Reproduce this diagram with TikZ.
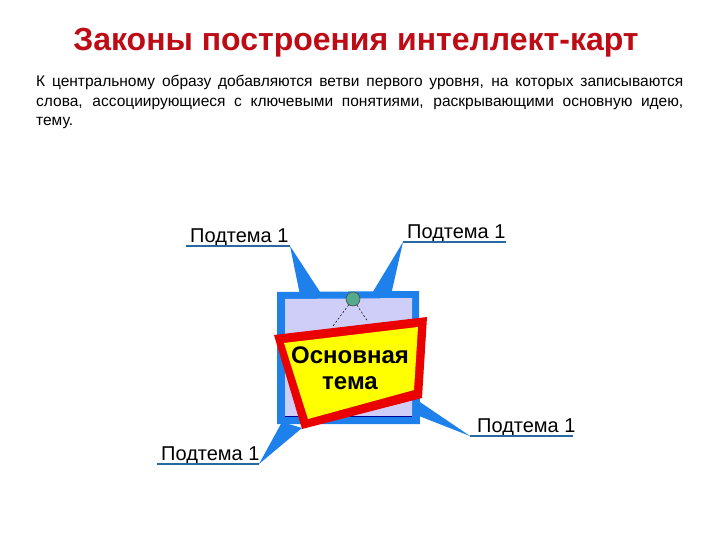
\documentclass[tikz,border=0pt]{standalone}
\usepackage{fontspec}
\setmainfont{Liberation Sans}
\definecolor{titlered}{RGB}{190,12,22}
\definecolor{brblue}{RGB}{30,128,235}
\definecolor{lav}{RGB}{206,206,248}
\definecolor{ulblue}{RGB}{40,105,160}
\definecolor{pincol}{RGB}{84,170,140}
\definecolor{signred}{RGB}{235,0,0}
\definecolor{signyel}{RGB}{255,255,0}
\begin{document}
\begin{tikzpicture}[x=1pt,y=-1pt,
  lbl/.style={font=\fontsize{20}{24}\selectfont, inner sep=0pt, anchor=base west},
  ulline/.style={draw=ulblue, line width=1.1pt},
  branch/.style={fill=brblue},
]
\useasboundingbox[fill=white] (0,0) rectangle (720,540);

% title and text
\node[font=\bfseries\fontsize{32}{36}\selectfont, text=titlered, anchor=base, inner sep=0pt] (title) at (356,51) {Законы построения интеллект-карт};
\node[font=\fontsize{15.5}{19.3}\selectfont, text width=647pt, align=justify, inner sep=0pt, anchor=base west] (body) at (36,87)
 {К центральному образу добавляются ветви первого уровня, на которых записываются\linebreak слова, ассоциирующиеся с ключевыми понятиями, раскрывающими основную идею,\linebreak тему.};

% branch coordinates
\coordinate (tlA) at (186,246); \coordinate (tlB) at (290,246);
\coordinate (trA) at (403,242); \coordinate (trB) at (506,242);
\coordinate (brA) at (470,436); \coordinate (brB) at (573,436);
\coordinate (blA) at (157,464); \coordinate (blB) at (259,464);
\coordinate (tl1) at (300,295); \coordinate (tl2) at (322,295);
\coordinate (tr1) at (371,295); \coordinate (tr2) at (391,295);
\coordinate (br1) at (411,396); \coordinate (br2) at (419,416);
\coordinate (bl1) at (282,422); \coordinate (bl2) at (302,428);

% branches
\fill[branch] (tlB) -- (tl1) -- (tl2) -- cycle;
\fill[branch] (trA) -- (tr1) -- (tr2) -- cycle;
\fill[branch] (brA) -- (br1) -- (br2) -- cycle;
\fill[branch] (blB) -- (bl1) -- (bl2) -- cycle;

% frame
\fill[brblue] (277,292) -- (419,291) -- (420,424) -- (277,424) -- cycle;
\fill[lav] (285,299) -- (412,298) -- (412,416) -- (285,416) -- cycle;
\draw[blue!60!black, line width=0.8pt] (285,416) -- (412,416);

% pin and strings
\node[circle, draw=black!70, fill=pincol, minimum size=14pt, inner sep=0pt, line width=0.6pt] (pin) at (353,299) {};
\coordinate (s1) at (333,326); \coordinate (s2) at (368,322);
\draw[dashed, line width=0.5pt, dash pattern=on 2pt off 2pt] (pin) -- (s1);
\draw[dashed, line width=0.5pt, dash pattern=on 2pt off 2pt] (pin) -- (s2);

% sign
\fill[signred] (274,335) -- (427,317) -- (422,398) -- (302,429) -- cycle;
\fill[signyel] (284,343) -- (418,327) -- (414,390) -- (308,419) -- cycle;
\node[font=\bfseries\fontsize{24}{26}\selectfont, align=center, inner sep=0pt, anchor=base] (main) at (350,389) {Основная\\тема};

% labels
\node[lbl] (tl) at (190,242) {Подтема 1};
\node[lbl] (tr) at (407,238) {Подтема 1};
\node[lbl] (br) at (477,432) {Подтема 1};
\node[lbl] (bl) at (161,460) {Подтема 1};
\draw[ulline] (tlA) -- (tlB);
\draw[ulline] (trA) -- (trB);
\draw[ulline] (brA) -- (brB);
\draw[ulline] (blA) -- (blB);
\end{tikzpicture}
\end{document}
